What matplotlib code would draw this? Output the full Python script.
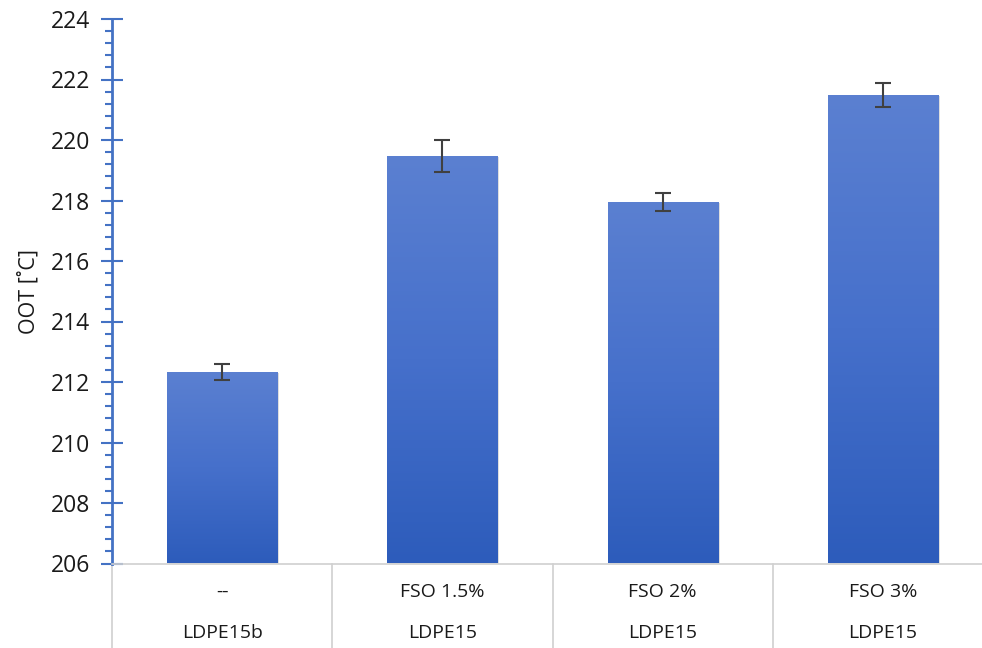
import numpy as np
import matplotlib
matplotlib.use("Agg")
import matplotlib.pyplot as plt
from matplotlib.colors import LinearSegmentedColormap
from matplotlib.ticker import MultipleLocator
import matplotlib.transforms as mtransforms

# Data
level1 = ["--", "FSO 1.5%", "FSO 2%", "FSO 3%"]
level2 = ["LDPE15b", "LDPE15", "LDPE15", "LDPE15"]
values = [212.32, 219.46, 217.96, 221.48]
errors = [0.27, 0.53, 0.30, 0.40]
y_min, y_max = 206, 224

plt.rcParams['font.family'] = ['Open Sans', 'DejaVu Sans']

fig = plt.figure(figsize=(9.82, 6.48), dpi=100)
W, H = 982, 648
ax_left, ax_right = 112, 993
ax_top, ax_bot = 19, 563.5
ax = fig.add_axes([ax_left / W, (H - ax_bot) / H, (ax_right - ax_left) / W, (ax_bot - ax_top) / H])

x = np.arange(len(values))
bw = 0.5
cmap = LinearSegmentedColormap.from_list("g", ["#2d5cbb", "#4670cb", "#5b80d1"])
grad = np.linspace(0, 1, 256).reshape(-1, 1)

# shadow offset
shadow_off = mtransforms.offset_copy(ax.transData, fig=fig, x=2, y=-1, units='dots')
for xi, v in zip(x, values):
    ax.bar(xi, v - y_min, bottom=y_min, width=bw, color="#bfbfbf", alpha=0.5,
           transform=shadow_off, zorder=1, linewidth=0)
    bars = ax.bar(xi, v - y_min, bottom=y_min, width=bw, color="none", linewidth=0, zorder=2)
    im = ax.imshow(grad, extent=[xi - bw / 2, xi + bw / 2, y_min, v], origin="lower",
                   cmap=cmap, aspect="auto", zorder=2)
    im.set_clip_path(bars[0])

ax.errorbar(x, values, yerr=errors, fmt="none", ecolor="#404040", elinewidth=1.5,
            capsize=5.5, capthick=1.5, zorder=3)

ax.set_xlim(-0.5, 3.5)
ax.set_ylim(y_min, y_max)

ax.yaxis.set_major_locator(MultipleLocator(2))
ax.yaxis.set_minor_locator(MultipleLocator(0.4))
blue = "#4472c4"
ax.tick_params(axis="y", which="major", direction="inout", length=16, width=1.5,
               color=blue, labelsize=16.5, pad=8, labelcolor="#1a1a1a")
ax.tick_params(axis="y", which="minor", direction="out", length=5, width=1.5, color=blue)
ax.set_xticks([])

for s in ["top", "right"]:
    ax.spines[s].set_visible(False)
ax.spines["left"].set_color(blue)
ax.spines["left"].set_linewidth(2)
ax.spines["bottom"].set_color("#d0d0d0")
ax.spines["bottom"].set_linewidth(1.2)

ax.set_ylabel("OOT [˚C]", fontsize=15.5, labelpad=8, color="#1a1a1a")

# multi-level category axis
trans = mtransforms.blended_transform_factory(ax.transData, ax.transAxes)
bottom_frac = -(H - ax_bot) / (ax_bot - ax_top)
for xi, a, b in zip(x, level1, level2):
    ax.text(xi, -(592 - ax_bot) / (ax_bot - ax_top), a, transform=trans, ha="center",
            va="center", fontsize=14, color="#1a1a1a")
    ax.text(xi, -(633 - ax_bot) / (ax_bot - ax_top), b, transform=trans, ha="center",
            va="center", fontsize=14, color="#1a1a1a")
for xs in np.arange(-0.5, 3.6, 1.0):
    ax.plot([xs, xs], [0, bottom_frac], transform=trans, color="#d0d0d0",
            linewidth=1.2, clip_on=False)

fig.savefig("out.png", dpi=100)
